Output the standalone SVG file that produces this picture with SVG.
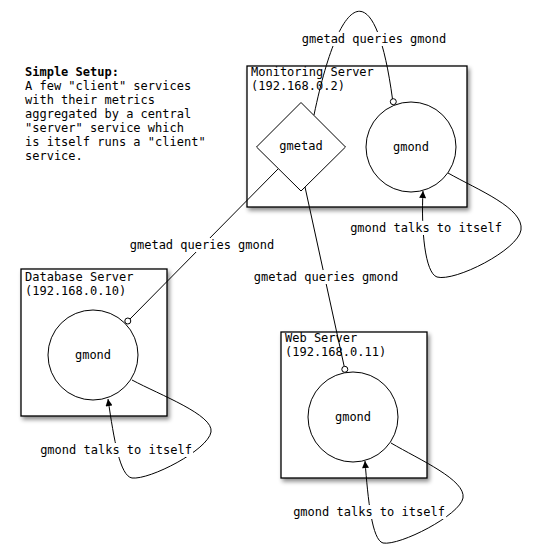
<svg xmlns="http://www.w3.org/2000/svg" width="533" height="556" viewBox="0 0 533 556">
<style>
.mono{font-family:"DejaVu Sans Mono","Liberation Mono",monospace;font-size:12px;fill:#000}
.bold{font-weight:bold}
.node{text-anchor:middle}
.box{fill:#fff;stroke:#000;stroke-width:1.3}
.shape{fill:#fff;stroke:#000;stroke-width:1}
.conn{fill:none;stroke:#000;stroke-width:1}
.port{fill:#fff;stroke:#000;stroke-width:1}
.lbl{text-anchor:middle}
.bg{fill:#fff}
</style>
<defs>
<filter id="sh" x="-10%" y="-10%" width="130%" height="130%">
<feDropShadow dx="2" dy="3" stdDeviation="2" flood-color="#000" flood-opacity="0.45"/>
</filter>
<marker id="arr" viewBox="0 0 10 10" refX="10" refY="5" markerWidth="9" markerHeight="7" markerUnits="userSpaceOnUse" orient="auto">
<path d="M0,0 L10,5 L0,10 Z" fill="#000"/>
</marker>
</defs>
<rect width="533" height="556" fill="#fff"/>
<g id="note">
<text class="mono bold" x="25" y="76">Simple Setup:</text>
<text class="mono" x="25" y="90">A few "client" services</text>
<text class="mono" x="25" y="104">with their metrics</text>
<text class="mono" x="25" y="118">aggregated by a central</text>
<text class="mono" x="25" y="132">"server" service which</text>
<text class="mono" x="25" y="146">is itself runs a "client"</text>
<text class="mono" x="25" y="160">service.</text>
</g>
<g id="monitoring-server">
<rect class="box" x="247" y="66" width="220" height="141" filter="url(#sh)"/>
<text class="mono" x="251" y="76">Monitoring Server</text>
<text class="mono" x="251" y="90">(192.168.0.2)</text>
</g>
<g id="database-server">
<rect class="box" x="21" y="269" width="146" height="147" filter="url(#sh)"/>
<text class="mono" x="25" y="281">Database Server</text>
<text class="mono" x="25" y="295">(192.168.0.10)</text>
</g>
<g id="web-server">
<rect class="box" x="281" y="332" width="146" height="146" filter="url(#sh)"/>
<text class="mono" x="285" y="342">Web Server</text>
<text class="mono" x="285" y="356">(192.168.0.11)</text>
</g>
<g id="gmetad">
<polygon class="shape" points="301,102.5 345.5,147 301,191 256.5,147"/>
<text class="mono node" x="301" y="149.5">gmetad</text>
</g>
<g id="gmond-monitoring">
<circle class="shape" cx="411" cy="147" r="45"/>
<text class="mono node" x="411" y="150.5">gmond</text>
</g>
<g id="gmond-database">
<circle class="shape" cx="93" cy="355" r="45"/>
<text class="mono node" x="93" y="358.5">gmond</text>
</g>
<g id="gmond-web">
<circle class="shape" cx="353" cy="417" r="45"/>
<text class="mono node" x="353" y="420.5">gmond</text>
</g>
<g id="connectors">
<path class="conn" d="M314,115 C340,-10 375,-30 392.5,99"/>
<circle class="port" cx="393.3" cy="101.7" r="3"/>
<rect class="bg" x="300" y="32" width="148" height="14"/>
<text class="mono lbl" x="374" y="42.5">gmetad queries gmond</text>

<path class="conn" d="M278,169 L130,319"/>
<circle class="port" cx="127.8" cy="321" r="3"/>
<rect class="bg" x="128" y="238" width="148" height="14"/>
<text class="mono lbl" x="202" y="249">gmetad queries gmond</text>

<path class="conn" d="M305,187 L344.2,366.4"/>
<circle class="port" cx="344.8" cy="369.3" r="3"/>
<rect class="bg" x="252" y="270" width="148" height="14"/>
<text class="mono lbl" x="326" y="281">gmetad queries gmond</text>

<path class="conn" d="M448,173 C478,190 524,208 521,230 C518,250 455,282 437,277 C425,273 421,230 423,191" marker-end="url(#arr)"/>
<rect class="bg" x="349" y="221" width="155" height="14"/>
<text class="mono lbl" x="426" y="232">gmond talks to itself</text>

<path class="conn" d="M132,380 C160,395 214,415 211,432 C208,450 150,480 132,478 C120,476 114,440 108,399" marker-end="url(#arr)"/>
<rect class="bg" x="38" y="443" width="155" height="14"/>
<text class="mono lbl" x="116" y="453.5">gmond talks to itself</text>

<path class="conn" d="M391,443 C420,460 466,480 463,498 C460,515 400,546 383,543 C372,540 368,500 365,461" marker-end="url(#arr)"/>
<rect class="bg" x="291" y="505" width="155" height="14"/>
<text class="mono lbl" x="369" y="516">gmond talks to itself</text>
</g>
</svg>
